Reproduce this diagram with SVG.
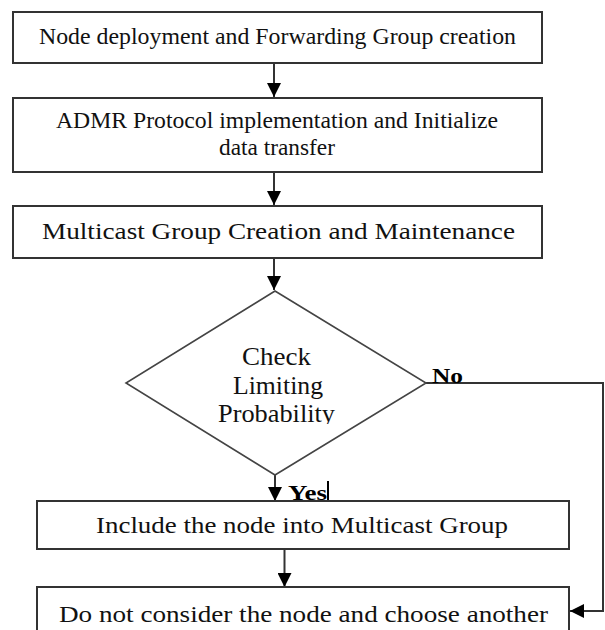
<svg xmlns="http://www.w3.org/2000/svg" width="605" height="630" viewBox="0 0 605 630">
<style>
.box{fill:#fff;stroke:#333;stroke-width:2}
.dia{fill:#fff;stroke:#444;stroke-width:1.6}
.t{font-family:"Liberation Serif","Times New Roman",serif;font-size:24px;fill:#111;text-anchor:middle}
.d{font-size:25px}
.lbl{font-family:"Liberation Serif","Times New Roman",serif;font-size:21px;font-weight:bold;fill:#000}
.con{fill:none;stroke:#333;stroke-width:2}
</style>
<defs>
<marker id="ah" markerUnits="userSpaceOnUse" markerWidth="14" markerHeight="14" viewBox="0 0 14 14" refX="14" refY="7" orient="auto">
<path d="M0,0 L14,7 L0,14 Z" fill="#000"/>
</marker>
<clipPath id="clipP"><rect x="0" y="0" width="605" height="424"/></clipPath>
</defs>
<g id="connectors">
<line class="con" x1="274" y1="64" x2="274" y2="97" marker-end="url(#ah)"/>
<line class="con" x1="274" y1="172" x2="274" y2="205" marker-end="url(#ah)"/>
<line class="con" x1="274" y1="259" x2="274" y2="290" marker-end="url(#ah)"/>
<line class="con" x1="275" y1="475" x2="275" y2="501" marker-end="url(#ah)"/>
<line class="con" x1="284.5" y1="550" x2="284.5" y2="587" marker-end="url(#ah)"/>
<path class="con" d="M426,383 H603 V611 H570" marker-end="url(#ah)"/>
<text class="lbl" x="432" y="383" textLength="31" lengthAdjust="spacingAndGlyphs">No</text>
<text class="lbl" x="288" y="500" textLength="39" lengthAdjust="spacingAndGlyphs">Yes</text>
<line x1="328" y1="481" x2="328" y2="507" stroke="#000" stroke-width="2"/>
</g>
<g id="n1">
<rect class="box" x="13" y="12" width="529" height="51"/>
<text class="t" x="277.5" y="44" textLength="477" lengthAdjust="spacingAndGlyphs">Node deployment and Forwarding Group creation</text>
</g>
<g id="n2">
<rect class="box" x="13" y="98" width="529" height="74"/>
<text class="t" x="277" y="128" textLength="442" lengthAdjust="spacingAndGlyphs">ADMR Protocol implementation  and Initialize</text>
<text class="t" x="277" y="155" textLength="116" lengthAdjust="spacingAndGlyphs">data transfer</text>
</g>
<g id="n3">
<rect class="box" x="13" y="206" width="529" height="52"/>
<text class="t" x="278.5" y="239" textLength="473" lengthAdjust="spacingAndGlyphs">Multicast Group Creation and Maintenance</text>
</g>
<g id="n4">
<polygon class="dia" points="275,291 426,383 275,475 126,383"/>
<text class="t d" x="276.5" y="365" textLength="69" lengthAdjust="spacingAndGlyphs">Check</text>
<text class="t d" x="278" y="394" textLength="90" lengthAdjust="spacingAndGlyphs">Limiting</text>
<text class="t d" x="276.5" y="422" textLength="117" lengthAdjust="spacingAndGlyphs" clip-path="url(#clipP)">Probability</text>
</g>
<g id="n5">
<rect class="box" x="37" y="501" width="532" height="48"/>
<text class="t" x="302" y="533" textLength="412" lengthAdjust="spacingAndGlyphs">Include the node into Multicast Group</text>
</g>
<g id="n6">
<rect class="box" x="37" y="587" width="532" height="60"/>
<text class="t" x="303.5" y="622" textLength="489" lengthAdjust="spacingAndGlyphs">Do not consider the node and choose another</text>
</g>
</svg>
